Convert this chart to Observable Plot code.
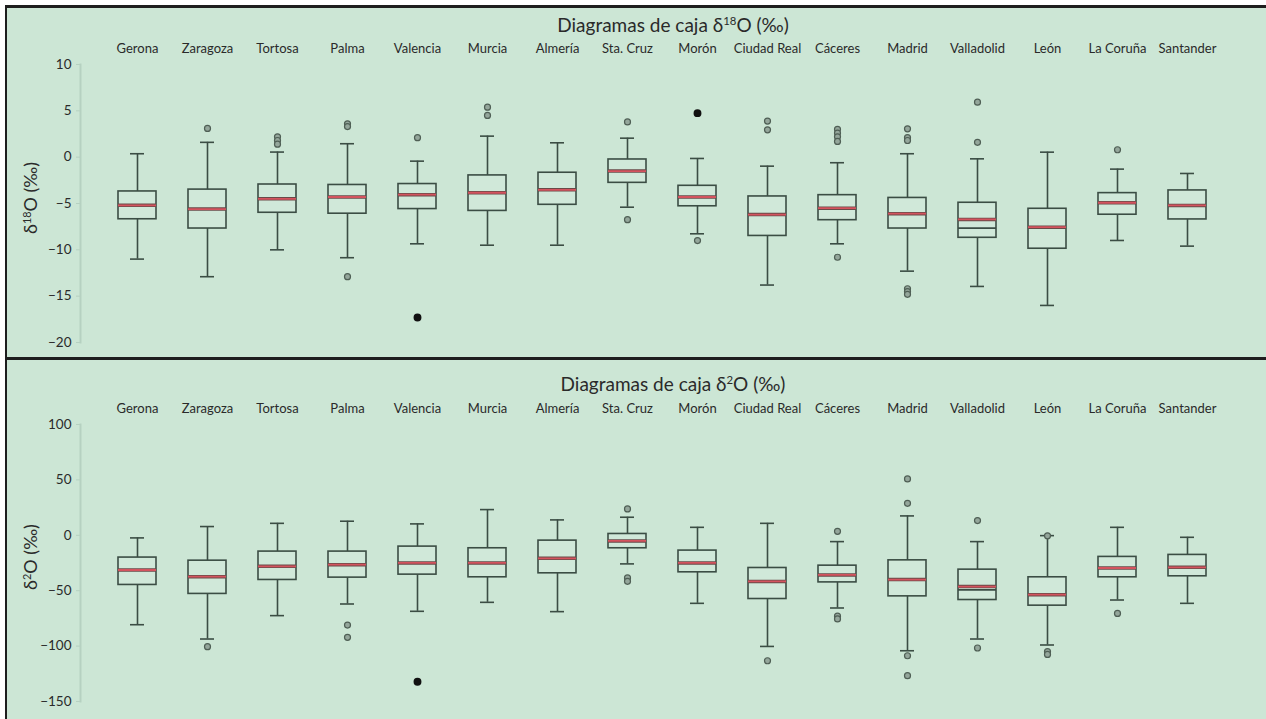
<!DOCTYPE html>
<html>
<head>
<meta charset="utf-8">
<script src="https://cdn.jsdelivr.net/npm/d3@7"></script>
<script src="https://cdn.jsdelivr.net/npm/@observablehq/plot@0.6"></script>
<style>
  html, body { margin: 0; padding: 0; background: #ffffff; overflow: hidden; }
  #page { position: relative; width: 1266px; height: 719px; font-family: Lato, "Open Sans", sans-serif; color: #222; }
  #panel { position: absolute; left: 5px; top: 5px; width: 1261px; height: 714px; background: #cce6d5;
           border-top: 3px solid #1e1e1e; border-left: 2px solid #1e1e1e; box-sizing: border-box; }
  #sep { position: absolute; left: 5px; top: 357px; width: 1261px; height: 3px; background: #1e1e1e; }
  .chart { position: absolute; left: 0; }
  .title { position: absolute; transform: translate(-50%, -50%); font-size: 19px; white-space: nowrap; color: #2a2a2a; }
  .ylab { position: absolute; transform: translate(-50%, -50%) rotate(-90deg); font-size: 18px; white-space: nowrap; color: #2a2a2a; }
  sup { font-size: 0.6em; vertical-align: 0.6em; line-height: 0; }
</style>
</head>
<body>
<div id="page">
  <div id="panel"></div>
  <div id="sep"></div>
  <div id="top" class="chart" style="top:8px"></div>
  <div id="bot" class="chart" style="top:360px"></div>
  <div class="title" style="left:673px; top:24px">Diagramas de caja δ<sup>18</sup>O (‰)</div>
  <div class="title" style="left:673px; top:383px">Diagramas de caja δ<sup>2</sup>O (‰)</div>
  <div class="ylab" style="left:30px; top:198px">δ<sup>18</sup>O (‰)</div>
  <div class="ylab" style="left:30px; top:557px">δ<sup>2</sup>O (‰)</div>
</div>
<script>
const cities = ["Gerona","Zaragoza","Tortosa","Palma","Valencia","Murcia","Almería","Sta. Cruz","Morón","Ciudad Real","Cáceres","Madrid","Valladolid","León","La Coruña","Santander"];

// δ18O box statistics
const o18Lo  = [-11.0, -12.9, -10.0, -10.85, -9.35, -9.5, -9.5, -5.4, -8.27, -13.8, -9.35, -12.3, -13.95, -16.0, -8.99, -9.6];
const o18Q1  = [-6.7, -7.7, -6.0, -6.1, -5.6, -5.8, -5.14, -2.77, -5.3, -8.5, -6.8, -7.7, -8.7, -9.88, -6.21, -6.72];
const o18Med = [-5.2, -5.6, -4.5, -4.3, -4.05, -3.84, -3.52, -1.5, -4.3, -6.2, -5.5, -6.1, -6.72, -7.55, -4.92, -5.21];
const o18Q3  = [-3.7, -3.5, -2.95, -3.0, -2.9, -1.97, -1.68, -0.25, -3.09, -4.24, -4.1, -4.4, -4.92, -5.57, -3.88, -3.59];
const o18Hi  = [0.37, 1.6, 0.55, 1.45, -0.43, 2.27, 1.55, 2.05, -0.14, -0.97, -0.6, 0.37, -0.18, 0.54, -1.29, -1.76];
const o18Out = [["Zaragoza",3.1],["Tortosa",2.2],["Tortosa",1.8],["Tortosa",1.4],["Palma",3.6],["Palma",3.3],["Palma",-12.9],
  ["Valencia",2.1],["Murcia",5.4],["Murcia",4.5],["Sta. Cruz",3.8],["Sta. Cruz",-6.75],["Morón",-9.0],
  ["Ciudad Real",3.9],["Ciudad Real",2.95],["Cáceres",3.0],["Cáceres",2.6],["Cáceres",2.2],["Cáceres",1.7],["Cáceres",-10.8],
  ["Madrid",3.06],["Madrid",2.1],["Madrid",1.8],["Madrid",-14.2],["Madrid",-14.5],["Madrid",-14.8],
  ["Valladolid",5.93],["Valladolid",1.6],["La Coruña",0.8]];
const o18Ext = [["Valencia",-17.3],["Morón",4.75]];
const o18Extra = [["Valladolid",-7.66]];
const o18Ticks = [10, 5, 0, -5, -10, -15, -20];

// δ2O box statistics
const h2Lo  = [-80.7, -93.6, -72.5, -62, -68.6, -60.5, -68.9, -25.8, -61.4, -100.3, -65.6, -104.2, -93.6, -99, -58.4, -61.4];
const h2Q1  = [-44.8, -52.9, -40.3, -38.2, -35.5, -37.9, -34.3, -11.7, -33.4, -57.5, -42.5, -55.1, -58.4, -63.5, -37.9, -37];
const h2Med = [-31.3, -37.3, -28.0, -26.5, -24.9, -24.9, -20.8, -5.1, -24.9, -41.6, -35.8, -40, -46.3, -53.6, -29.5, -28.9];
const h2Q3  = [-20.1, -22.9, -14.7, -14.7, -10.2, -11.7, -4.8, 1.2, -13.8, -29.5, -27.4, -22.6, -31, -37.9, -19.5, -17.7];
const h2Hi  = [-2.35, 7.9, 10.8, 12.7, 10.3, 23.2, 13.9, 16.3, 7.2, 10.8, -5.7, 17.5, -5.7, -0.3, 7.2, -1.8];
const h2Out = [["Zaragoza",-100.5],["Palma",-81],["Palma",-92.1],["Sta. Cruz",23.8],["Sta. Cruz",-38.5],["Sta. Cruz",-41.5],
  ["Ciudad Real",-113.2],["Cáceres",3.6],["Cáceres",-73],["Cáceres",-75.5],
  ["Madrid",50.9],["Madrid",28.9],["Madrid",-108.7],["Madrid",-126.7],["Valladolid",13.3],["Valladolid",-101.7],
  ["León",-0.5],["León",-105],["León",-107.5],["La Coruña",-70.5]];
const h2Ext = [["Valencia",-132.2]];
const h2Extra = [["Valladolid",-49.3]];
const h2Ticks = [100, 50, 0, -50, -100, -150];

const boxStroke = "#3b4d44";

function makeChart({lo, q1, med, q3, hi, out, ext, extra, ticks, domain, height, marginTop, marginBottom}) {
  const rows = cities.map((c, i) => ({city: c, lo: lo[i], q1: q1[i], med: med[i], q3: q3[i], hi: hi[i]}));
  const pts = out.map(([city, v]) => ({city, v}));
  const ex = ext.map(([city, v]) => ({city, v}));
  const xt = extra.map(([city, v]) => ({city, v}));
  return Plot.plot({
    width: 1266,
    height,
    marginLeft: 80,
    marginRight: 23,
    marginTop,
    marginBottom,
    style: {background: "transparent", fontFamily: "Lato, 'Open Sans', sans-serif", fontSize: "13px", color: "#2a2a2a", overflow: "visible"},
    x: {type: "band", domain: cities, padding: 0.462},
    y: {domain, ticks},
    marks: [
      Plot.frame({anchor: "left", stroke: "#b6d1c1", strokeWidth: 2}),
      Plot.axisY({ticks, tickSize: 4, tickPadding: 5, stroke: "#b6d1c1", fill: "#2a2a2a", fontSize: 13.5, label: null, tickFormat: d => d < 0 ? "−" + Math.abs(d) : String(d)}),
      Plot.axisX({anchor: "top", tickSize: 0, tickPadding: 12, fill: "#2a2a2a", fontSize: 13, label: null}),
      Plot.ruleX(rows, {x: "city", y1: "q3", y2: "hi", stroke: boxStroke, strokeWidth: 1.6}),
      Plot.ruleX(rows, {x: "city", y1: "lo", y2: "q1", stroke: boxStroke, strokeWidth: 1.6}),
      Plot.tickY(rows, {x: "city", y: "hi", stroke: boxStroke, strokeWidth: 1.6, insetLeft: 12, insetRight: 12}),
      Plot.tickY(rows, {x: "city", y: "lo", stroke: boxStroke, strokeWidth: 1.6, insetLeft: 12, insetRight: 12}),
      Plot.barY(rows, {x: "city", y1: "q1", y2: "q3", fill: "#d0e8d9", stroke: boxStroke, strokeWidth: 1.6}),
      Plot.tickY(rows, {x: "city", y: "med", stroke: "#6a4a48", strokeWidth: 3.5}),
      Plot.tickY(rows, {x: "city", y: "med", stroke: "#d4535e", strokeWidth: 1.8}),
      Plot.tickY(xt, {x: "city", y: "v", stroke: boxStroke, strokeWidth: 1.8}),
      Plot.dot(pts, {x: "city", y: "v", r: 3, fill: "#94a69b", stroke: "#4f5f55", strokeWidth: 1.2}),
      Plot.dot(ex, {x: "city", y: "v", r: 3.2, fill: "#111", stroke: "#111"})
    ]
  });
}

document.getElementById("top").append(makeChart({
  lo: o18Lo, q1: o18Q1, med: o18Med, q3: o18Q3, hi: o18Hi, out: o18Out, ext: o18Ext, extra: o18Extra,
  ticks: o18Ticks, domain: [-20, 10], height: 349, marginTop: 56, marginBottom: 15
}));
document.getElementById("bot").append(makeChart({
  lo: h2Lo, q1: h2Q1, med: h2Med, q3: h2Q3, hi: h2Hi, out: h2Out, ext: h2Ext, extra: h2Extra,
  ticks: h2Ticks, domain: [-150, 100], height: 359, marginTop: 64, marginBottom: 18
}));
</script>
</body>
</html>
